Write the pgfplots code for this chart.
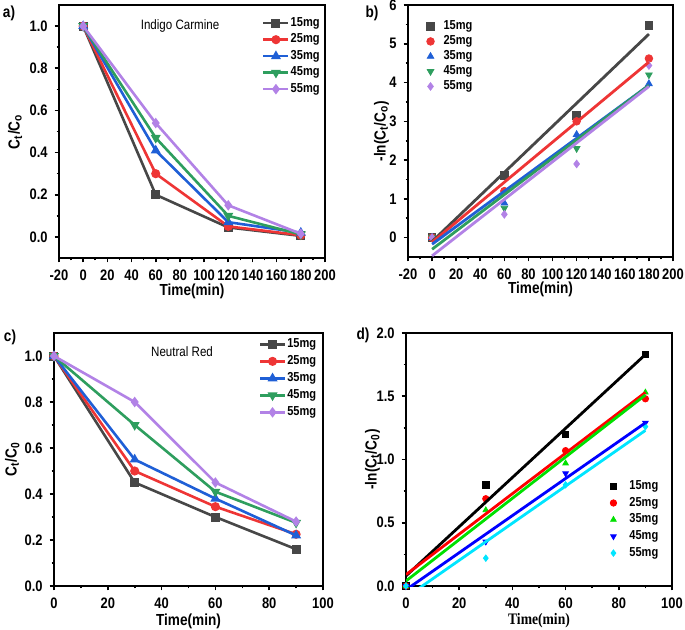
\documentclass[border=0pt]{standalone}
\usepackage{pgfplots}
\pgfplotsset{compat=1.18}
\usepackage{fontspec}
\setmainfont{Liberation Sans}[FakeStretch=0.85]
\newfontfamily\timesfont{Liberation Serif}[FakeStretch=0.85]

\definecolor{cgray}{HTML}{474747}
\definecolor{cred}{HTML}{EE3535}
\definecolor{cblue}{HTML}{1F5FD6}
\definecolor{cgreen}{HTML}{2E9E5E}
\definecolor{cviolet}{HTML}{B282E6}
\definecolor{dgreen}{HTML}{00E000}
\definecolor{dcyan}{HTML}{00E5FF}

\pgfplotsset{
  panel/.style={
    scale only axis,
    axis line style={line width=1pt},
    tick align=outside, tick pos=left,
    minor tick num=1,
    major tick length=2.2pt, minor tick length=1.2pt,
    every tick/.style={line width=0.8pt, black},
    tick label style={font=\bfseries\fontsize{7.6}{8}\selectfont},
    /pgf/number format/assume math mode=true,
    label style={font=\bfseries\fontsize{8}{9}\selectfont},
    clip mode=individual,
  },
  onedec/.style={yticklabel style={/pgf/number format/.cd, fixed, fixed zerofill, precision=1}},
  labpos/.style 2 args={
    xlabel style={at={(rel axis cs:0.5,#1)}, anchor=base},
    ylabel style={at={(rel axis cs:#2,0.5)}, anchor=center},
  },
  legcells/.style={
    legend style={draw=none, fill=none, font=\bfseries\fontsize{6.5}{7}\selectfont,
      inner sep=0pt, row sep=#1, cells={anchor=west},
      nodes={inner sep=0.5pt, text height=4.6pt, text depth=1.3pt}},
  },
  lineleg/.style={
    legcells=#1,
    legend image code/.code={\draw[##1, mark repeat=2, mark phase=2]
      plot coordinates {(0pt,0pt) (6.25pt,0pt) (12.5pt,0pt)};},
  },
  markleg/.style 2 args={
    legcells=#1,
    legend image code/.code={\path[draw=none, fill=none] (-5.5pt,0pt) rectangle (#2,0pt);
      \draw[##1] plot coordinates {(0pt,0pt)};},
  },
  sq/.style={mark=square*},
  ci/.style={mark=*},
  tu/.style={mark=triangle*},
  td/.style={mark=triangle*, mark options={rotate=180}},
  di/.style={mark=diamond*},
}

\begin{document}
\begin{tikzpicture}
\useasboundingbox (0,0) rectangle (342.5pt,314.5pt);

% a) Indigo Carmine
\begin{axis}[panel, onedec, lineleg=1.35pt, labpos={-0.148}{-0.165},
  at={(29.5pt,185.5pt)}, anchor=south west, width=133pt, height=126.5pt,
  xmin=-20, xmax=200, xtick distance=20,
  ymin=-0.1, ymax=1.1, ytick={0,0.2,0.4,0.6,0.8,1.0},
  xlabel={Time(min)}, ylabel={C\textsubscript{t}/C\textsubscript{o}},
  legend style={at={(0.985,0.957)}, anchor=north east},
  every axis plot/.append style={line width=1.3pt, mark size=1.6pt},
]
\addplot[cgray, sq] coordinates {(0,1) (60,0.20) (120,0.045) (180,0.005)};
\addplot[cred, ci] coordinates {(0,1) (60,0.30) (120,0.05) (180,0.008)};
\addplot[cblue, tu] coordinates {(0,1) (60,0.41) (120,0.07) (180,0.02)};
\addplot[cgreen, td] coordinates {(0,1) (60,0.47) (120,0.10) (180,0.012)};
\addplot[cviolet, di] coordinates {(0,1) (60,0.54) (120,0.15) (180,0.015)};
\legend{15mg,25mg,35mg,45mg,55mg}
\node[font=\fontsize{6.8}{8}\selectfont] at (rel axis cs:0.455,0.917) {Indigo Carmine};
\end{axis}

% b) kinetics Indigo Carmine
\begin{axis}[panel, markleg={0.6pt}{6pt}, labpos={-0.145}{-0.1},
  at={(204pt,186pt)}, anchor=south west, width=132.5pt, height=126pt,
  xmin=-20, xmax=200, xtick distance=20,
  ymin=-0.5, ymax=6, ytick={0,1,2,3,4,5,6},
  xlabel={Time(min)}, ylabel={-ln(C\textsubscript{t}/C\textsubscript{o})},
  legend style={at={(0.042,0.944)}, anchor=north west},
  every axis plot/.append style={mark size=1.9pt},
]
\addplot[only marks, cgray, sq] coordinates {(0,0) (60,1.61) (120,3.15) (180,5.48)};
\addplot[only marks, cred, ci] coordinates {(0,0) (60,1.20) (120,3.00) (180,4.62)};
\addplot[only marks, cblue, tu] coordinates {(0,0) (60,0.89) (120,2.66) (180,3.97)};
\addplot[only marks, cgreen, td] coordinates {(0,0) (60,0.76) (120,2.30) (180,4.20)};
\addplot[only marks, cviolet, di] coordinates {(0,0) (60,0.60) (120,1.90) (180,4.44)};
\legend{15mg,25mg,35mg,45mg,55mg}
\addplot[cgray, line width=1.4pt, forget plot] coordinates {(0,-0.10) (180,5.25)};
\addplot[cred, line width=1.4pt, forget plot] coordinates {(0,-0.12) (180,4.53)};
\addplot[cblue, line width=1.4pt, forget plot] coordinates {(0,-0.17) (180,3.93)};
\addplot[cgreen, line width=1.4pt, forget plot] coordinates {(0,-0.30) (180,3.93)};
\addplot[cviolet, line width=1.4pt, forget plot] coordinates {(0,-0.47) (180,3.90)};
\end{axis}

% c) Neutral Red
\begin{axis}[panel, onedec, lineleg=1.6pt, labpos={-0.156}{-0.155},
  at={(27pt,21.5pt)}, anchor=south west, width=134.5pt, height=126.5pt,
  xmin=0, xmax=100, xtick distance=20,
  ymin=0, ymax=1.1, ytick={0,0.2,0.4,0.6,0.8,1.0},
  xlabel={Time(min)}, ylabel={C\textsubscript{t}/C\textsubscript{0}},
  legend style={at={(0.98,0.984)}, anchor=north east},
  every axis plot/.append style={line width=1.3pt, mark size=1.6pt},
]
\addplot[cgray, sq] coordinates {(0,1) (30,0.45) (60,0.30) (90,0.16)};
\addplot[cred, ci] coordinates {(0,1) (30,0.50) (60,0.345) (90,0.225)};
\addplot[cblue, tu] coordinates {(0,1) (30,0.55) (60,0.38) (90,0.22)};
\addplot[cgreen, td] coordinates {(0,1) (30,0.70) (60,0.41) (90,0.275)};
\addplot[cviolet, di] coordinates {(0,1) (30,0.80) (60,0.45) (90,0.28)};
\legend{15mg,25mg,35mg,45mg,55mg}
\node[font=\fontsize{6.8}{8}\selectfont] at (rel axis cs:0.476,0.925) {Neutral Red};
\end{axis}

% d) kinetics Neutral Red
\begin{axis}[panel, onedec, markleg={1.45pt}{7.5pt}, labpos={-0.152}{-0.126},
  at={(203pt,21.5pt)}, anchor=south west, width=133pt, height=126.5pt,
  xmin=0, xmax=100, xtick distance=20,
  ymin=0, ymax=2, ytick={0,0.5,1.0,1.5,2.0},
  xlabel={\timesfont\bfseries Time(min)}, ylabel={-ln(C\textsubscript{t}/C\textsubscript{0})},
  legend style={at={(0.737,0.423)}, anchor=north west},
  every axis plot/.append style={mark size=1.6pt},
]
\addplot[only marks, black, sq] coordinates {(0,0) (30,0.80) (60,1.20) (90,1.83)};
\addplot[only marks, red, ci] coordinates {(0,0) (30,0.69) (60,1.07) (90,1.48)};
\addplot[only marks, dgreen, tu] coordinates {(0,0) (30,0.60) (60,0.97) (90,1.53)};
\addplot[only marks, blue, td] coordinates {(0,0) (30,0.35) (60,0.89) (90,1.29)};
\addplot[only marks, dcyan, di] coordinates {(0,0) (30,0.22) (60,0.80) (90,1.26)};
\legend{15mg,25mg,35mg,45mg,55mg}
\addplot[black, line width=1.4pt, forget plot] coordinates {(0,0.08) (90,1.83)};
\addplot[red, line width=1.4pt, forget plot] coordinates {(0,0.09) (90,1.53)};
\addplot[dgreen, line width=1.4pt, forget plot] coordinates {(0,0.04) (90,1.51)};
\addplot[blue, line width=1.4pt, forget plot] coordinates {(0,-0.03) (90,1.29)};
\addplot[dcyan, line width=1.4pt, forget plot] coordinates {(0,-0.09) (90,1.23)};
\end{axis}

\node[font=\bfseries\fontsize{8}{9}\selectfont] at (4.5pt,308pt) {a)};
\node[font=\bfseries\fontsize{8}{9}\selectfont] at (186pt,308pt) {b)};
\node[font=\bfseries\fontsize{8}{9}\selectfont] at (5pt,146pt) {c)};
\node[font=\bfseries\fontsize{8}{9}\selectfont] at (181.5pt,147pt) {d)};
\end{tikzpicture}
\end{document}
